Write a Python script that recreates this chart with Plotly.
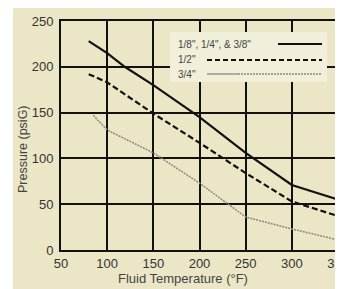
import plotly.graph_objects as go

# Data
temp_solid = [80, 100, 119, 150, 200, 250, 300, 350]
p_solid = [228, 215, 200, 180, 145, 106, 71, 55]
temp_dash = [80, 100, 150, 200, 250, 300, 350]
p_dash = [192, 183, 149, 117, 84, 53, 37]
temp_dot = [85, 100, 150, 200, 250, 300, 350]
p_dot = [147, 131, 106, 73, 36, 23, 11]
series_names = ['1/8", 1/4", & 3/8"', '1/2"', '3/4"']
x_ticks = [50, 100, 150, 200, 250, 300, 350]
y_ticks = [0, 50, 100, 150, 200, 250]
x_title = "Fluid Temperature (°F)"
y_title = "Pressure (psiG)"

OFF = 8  # page body margin
L, R, T, B = 61, 338, 21, 250   # screen coords of plot area
W, H = 343 - OFF, 289 - OFF
def px(x): return (x - L) / (R - L)
def py(y): return (B - y) / (B - T)

fig = go.Figure()
fig.add_trace(go.Scatter(x=temp_solid, y=p_solid, mode="lines", name=series_names[0],
                         line=dict(color="#111", width=2.2)))
fig.add_trace(go.Scatter(x=temp_dash, y=p_dash, mode="lines", name=series_names[1],
                         line=dict(color="#111", width=2.2, dash="6px,3px")))
fig.add_trace(go.Scatter(x=temp_dot, y=p_dot, mode="lines", name=series_names[2],
                         line=dict(color="#8a8a80", width=1.5, dash="2px,1px")))

font = "Liberation Sans, Arial, sans-serif"
shapes = [
    dict(type="rect", xref="paper", yref="paper", x0=px(13), x1=px(360), y0=py(300), y1=py(7),
         fillcolor="#ebe6c5", line=dict(width=0), layer="below"),
    dict(type="rect", xref="paper", yref="paper", x0=px(170), x1=px(327), y0=py(82), y1=py(32),
         fillcolor="#f1efd9", line=dict(width=0), layer="above"),
    dict(type="line", xref="paper", yref="paper", x0=px(278), x1=px(322), y0=py(44), y1=py(44),
         line=dict(color="#111", width=2.2)),
    dict(type="line", xref="paper", yref="paper", x0=px(207), x1=px(322), y0=py(60), y1=py(60),
         line=dict(color="#111", width=2, dash="5px,3px")),
    dict(type="line", xref="paper", yref="paper", x0=px(207), x1=px(238), y0=py(74), y1=py(74),
         line=dict(color="#8a8a80", width=1.3)),
    dict(type="line", xref="paper", yref="paper", x0=px(238), x1=px(322), y0=py(74), y1=py(74),
         line=dict(color="#8a8a80", width=1.5, dash="2px,1px")),
]
annotations = []
for name, yy in zip(series_names, [44, 60, 74]):
    annotations.append(dict(text=name, xref="paper", yref="paper", x=px(176), y=py(yy),
                            xanchor="left", yanchor="middle", showarrow=False,
                            font=dict(family=font, size=10, color="#444")))
annotations.append(dict(text=x_title, xref="paper", yref="paper", x=px(183), y=py(278),
                        xanchor="center", yanchor="middle", showarrow=False,
                        font=dict(family=font, size=13, color="#444")))
annotations.append(dict(text=y_title, xref="paper", yref="paper", x=px(23), y=py(149),
                        xanchor="center", yanchor="middle", showarrow=False, textangle=-90,
                        font=dict(family=font, size=12.5, color="#444")))

axis_common = dict(showgrid=True, gridcolor="#111", gridwidth=2, showline=True, linecolor="#111",
                   linewidth=2, mirror=True, zeroline=False, ticks="", ticklabeloverflow="allow",
                   automargin=False, tickfont=dict(family=font, size=13, color="#333"))
fig.update_layout(
    width=W, height=H,
    margin=dict(l=L - OFF, r=343 - R, t=T - OFF, b=289 - B, autoexpand=False),
    paper_bgcolor="white", plot_bgcolor="#f3f1de", showlegend=False,
    shapes=shapes, annotations=annotations,
    xaxis=dict(range=[50, 350], tickvals=x_ticks, **axis_common),
    yaxis=dict(range=[0, 250], tickvals=y_ticks, ticklabelstandoff=3, **axis_common),
)
fig.write_html("out.html")
